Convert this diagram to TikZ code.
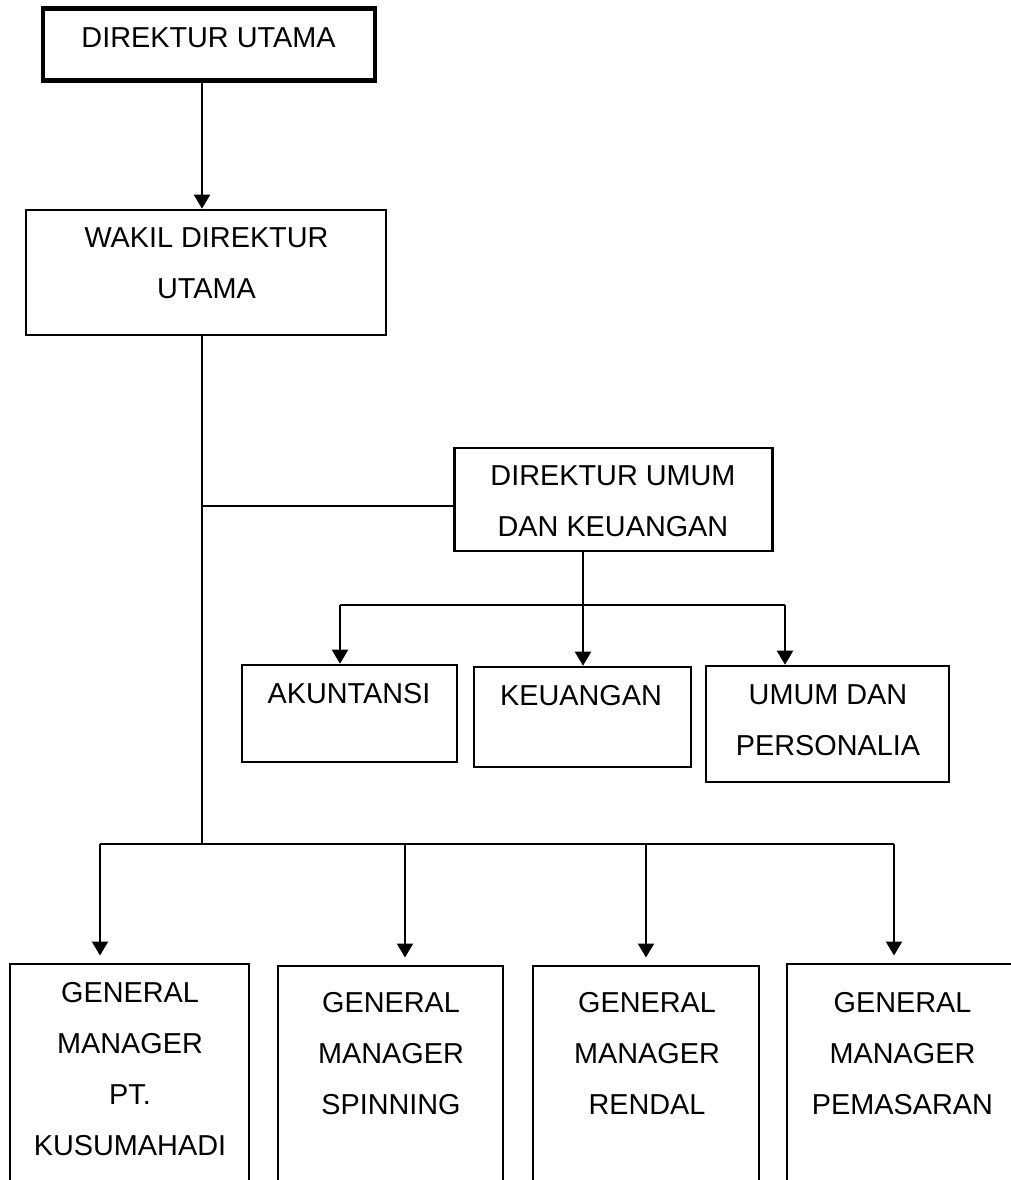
\documentclass[tikz,border=0pt]{standalone}
\usepackage{fontspec}
\setmainfont{Liberation Sans}
\usetikzlibrary{arrows.meta, calc}

\begin{document}
\begin{tikzpicture}[
    x=0.025cm, y=-0.025cm,
    orgbox/.style={draw, rectangle, line width=1.8pt, inner sep=0pt},
    topbox/.style={orgbox, line width=3.2pt},
    txt/.style={align=center, inner sep=0pt, font=\fontsize{20.5}{36.3}\selectfont},
    arrow/.style={-{Triangle[length=0.35cm, width=0.4cm]}, line width=1.5pt},
    link/.style={line width=1.5pt}
]
    \useasboundingbox (0,0) rectangle (1011,1180);
    \clip (0,0) rectangle (1011,1180);

    % ================= DIREKSI =================
    \node[topbox, minimum width=8.3cm, minimum height=1.8cm] (dir_utama) at (209, 44.5) {};
    \node[txt] (t_dir_utama) at (208.5, 37.5) {DIREKTUR UTAMA};

    \node[orgbox, minimum width=9cm, minimum height=3.125cm] (wakil) at (206, 272.5) {};
    \node[txt] (t_wakil) at (206.5, 263) {WAKIL DIREKTUR \\ UTAMA};

    \node[orgbox, minimum width=7.95cm, minimum height=2.575cm] (dir_umum) at (613.5, 499.5) {};
    \node[txt] (t_dir_umum) at (613, 501) {DIREKTUR UMUM \\ DAN KEUANGAN};

    % ================= BAGIAN =================
    \node[orgbox, minimum width=5.375cm, minimum height=2.425cm] (akuntansi) at (349.5, 713.5) {};
    \node[txt] (t_akuntansi) at (349, 694) {AKUNTANSI};
    \node[orgbox, minimum width=5.425cm, minimum height=2.5cm] (keuangan) at (582.5, 717) {};
    \node[txt] (t_keuangan) at (581, 695.5) {KEUANGAN};
    \node[orgbox, minimum width=6.075cm, minimum height=2.9cm] (umum) at (827.5, 724) {};
    \node[txt] (t_umum) at (828, 720) {UMUM DAN \\ PERSONALIA};

    % ================= GENERAL MANAGER =================
    \node[orgbox, minimum width=5.975cm, minimum height=6.4cm] (gm_kusuma) at (129.5, 1092) {};
    \node[txt] (t_gm_kusuma) at (130, 1069) {GENERAL \\ MANAGER \\ PT. \\ KUSUMAHADI};
    \node[orgbox, minimum width=5.625cm, minimum height=6.35cm] (gm_spinning) at (390.5, 1093) {};
    \node[txt] (t_gm_spinning) at (391, 1053.5) {GENERAL \\ MANAGER \\ SPINNING};
    \node[orgbox, minimum width=5.65cm, minimum height=6.35cm] (gm_rendal) at (646, 1093) {};
    \node[txt] (t_gm_rendal) at (647, 1053.5) {GENERAL \\ MANAGER \\ RENDAL};
    \node[orgbox, minimum width=6.325cm, minimum height=6.4cm] (gm_pemasaran) at (913.5, 1092) {};
    \node[txt] (t_gm_pemasaran) at (902.5, 1053.5) {GENERAL \\ MANAGER \\ PEMASARAN};

    % ================= GARIS =================
    \coordinate (spine) at (202, 0);
    \coordinate (j_umum) at (202, 506);
    \coordinate (j_gm) at (202, 844);
    \draw[arrow] (spine |- dir_utama.south) -- (spine |- wakil.north);
    \draw[link] (spine |- wakil.south) -- (j_gm);
    \draw[link] (j_umum) -- (j_umum -| dir_umum.west);

    % bagian
    \coordinate (b_left) at (340, 605);
    \coordinate (b_mid) at (583, 605);
    \coordinate (b_right) at (785, 605);
    \draw[link] (b_left) -- (b_right);
    \draw[arrow] (b_mid |- dir_umum.south) -- (b_mid |- keuangan.north);
    \draw[arrow] (b_left) -- (b_left |- akuntansi.north);
    \draw[arrow] (b_right) -- (b_right |- umum.north);

    % general manager
    \foreach \x/\gm in {100/gm_kusuma, 405/gm_spinning, 646/gm_rendal, 894/gm_pemasaran}{
        \coordinate (j_\gm) at (\x, 844);
        \draw[arrow, shorten >=0.18cm] (j_\gm) -- (j_\gm |- \gm.north);
    }
    \draw[link] (j_gm_kusuma) -- (j_gm_pemasaran);

\end{tikzpicture}
\end{document}
